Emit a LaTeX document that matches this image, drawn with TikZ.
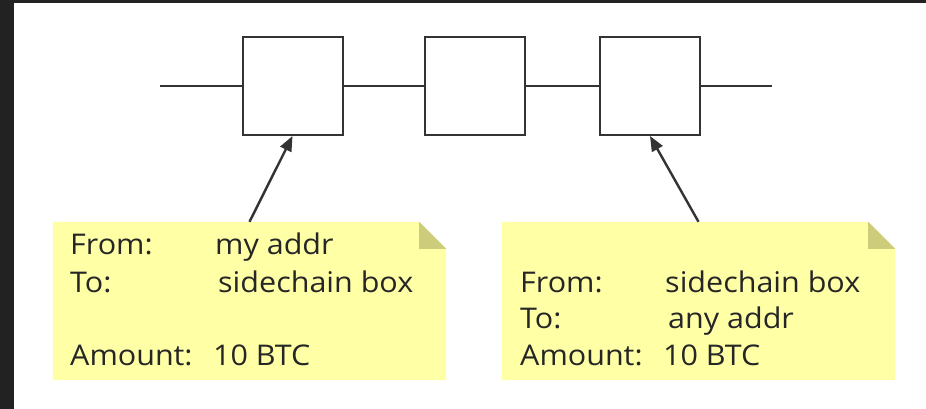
\documentclass[tikz,border=0pt]{standalone}
\usepackage{fontspec}
\setmainfont{Open Sans}[FakeStretch=1.07]
\usetikzlibrary{arrows.meta}
\definecolor{frame}{RGB}{34,34,34}
\definecolor{ink}{RGB}{51,51,51}
\definecolor{textink}{RGB}{38,38,38}
\definecolor{notefill}{RGB}{255,255,166}
\definecolor{foldfill}{RGB}{204,204,122}
\tikzset{
  block/.style={draw=ink, line width=2pt, minimum width=100pt, minimum height=98pt, inner sep=0pt},
  chain/.style={draw=ink, line width=2pt},
  arr/.style={draw=ink, line width=2.4pt, -{Triangle[length=15pt,width=12pt]}},
  note/.style={draw=none, inner sep=0pt, minimum width=393pt, minimum height=158pt},
  txt/.style={anchor=base west, inner sep=0pt, text=textink, font=\fontsize{28.5}{34}\selectfont}
}
\begin{document}
\begin{tikzpicture}[x=1pt,y=-1pt]
\useasboundingbox (0,0) rectangle (926,409);
\fill[frame] (0,0) rectangle (926,409);
\fill[white] (14,3) rectangle (926,409);
% chain
\coordinate (L) at (160,86);
\coordinate (R) at (772,86);
\node[block] (b1) at (292.5,86) {};
\node[block] (b2) at (474.5,86) {};
\node[block] (b3) at (650,86) {};
\draw[chain] (L) -- (b1.west);
\draw[chain] (b1.east) -- (b2.west);
\draw[chain] (b2.east) -- (b3.west);
\draw[chain] (b3.east) -- (R);
% notes
\node[note] (n1) at (249.5,301) {};
\node[note] (n2) at (698.5,301) {};
\foreach \n in {n1,n2}{
  \fill[notefill] (\n.north west) -- ([xshift=-27pt]\n.north east) -- ([yshift=-27pt]\n.north east) -- (\n.south east) -- (\n.south west) -- cycle;
  \fill[foldfill] ([xshift=-27pt]\n.north east) -- ([xshift=-27pt,yshift=-27pt]\n.north east) -- ([yshift=-27pt]\n.north east) -- cycle;
}
% texts left
\node[txt] (l1a) at (70,254) {From:};
\node[txt] (l1b) at (215,254) {my addr};
\node[txt] (l2a) at (70,292) {To:};
\node[txt] (l2b) at (218,292) {sidechain box};
\node[txt] (l3a) at (70,365) {Amount:};
\node[txt] (l3b) at (213,365) {10 BTC};
% texts right
\node[txt] (r1a) at (520,292) {From:};
\node[txt] (r1b) at (665,292) {sidechain box};
\node[txt] (r2a) at (520,328) {To:};
\node[txt] (r2b) at (668,328) {any addr};
\node[txt] (r3a) at (520,365) {Amount:};
\node[txt] (r3b) at (663,365) {10 BTC};
% arrows
\draw[arr] (n1.north) -- (b1.south);
\draw[arr] (n2.north) -- (b3.south);
\end{tikzpicture}
\end{document}
